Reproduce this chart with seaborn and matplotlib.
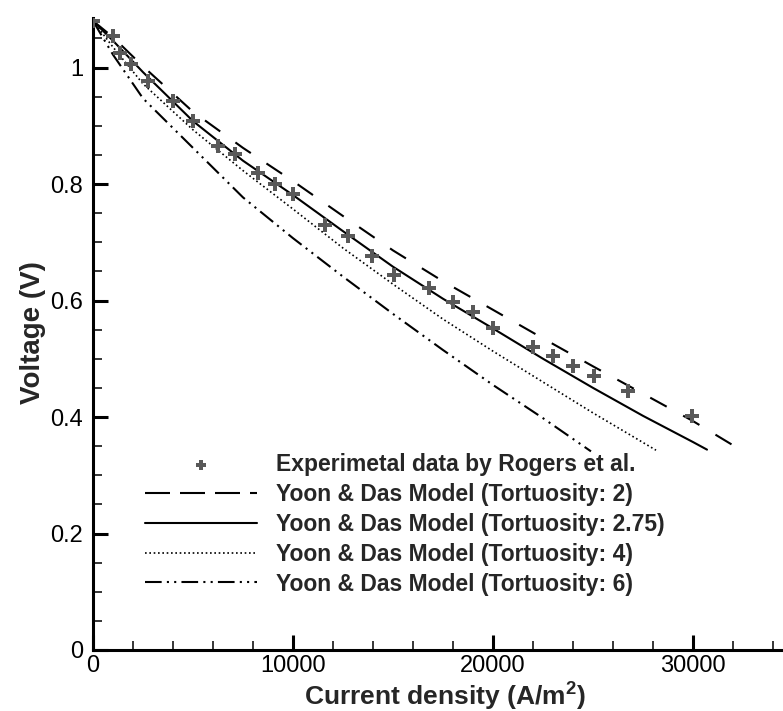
import matplotlib
matplotlib.use("Agg")
import matplotlib.pyplot as plt
import seaborn as sns
from matplotlib.ticker import MultipleLocator
from matplotlib.lines import Line2D

# ---- data ----
exp_x = [0, 1000, 1350, 1900, 2750, 4000, 5000, 6250, 7100, 8250, 9100, 10000,
         11600, 12750, 13950, 15050, 16800, 18000, 19000, 20000, 22000, 23000,
         24000, 25050, 26750, 29950]
exp_y = [1.08, 1.054, 1.025, 1.006, 0.977, 0.943, 0.909, 0.866, 0.852, 0.819,
         0.800, 0.783, 0.729, 0.711, 0.677, 0.643, 0.621, 0.598, 0.581, 0.552,
         0.521, 0.504, 0.487, 0.471, 0.444, 0.401]

t2_x = [0, 1000, 2500, 5000, 7500, 10000, 12500, 15000, 17500, 20000, 22500,
        25000, 27500, 30000, 32600]
t2_y = [1.08, 1.052, 1.002, 0.924, 0.862, 0.805, 0.745, 0.686, 0.633, 0.584,
        0.535, 0.487, 0.440, 0.393, 0.339]

t275_x = [0, 1000, 2500, 5000, 7500, 10000, 12500, 15000, 17500, 20000, 22500,
          25000, 27500, 30000, 30700]
t275_y = [1.08, 1.046, 0.992, 0.908, 0.840, 0.781, 0.719, 0.658, 0.603, 0.552,
          0.500, 0.450, 0.402, 0.357, 0.344]

t4_x = [0, 1000, 2500, 5000, 7500, 10000, 12500, 15000, 17500, 20000, 22500,
        25000, 28150]
t4_y = [1.08, 1.035, 0.972, 0.893, 0.823, 0.757, 0.690, 0.628, 0.568, 0.513,
        0.460, 0.407, 0.343]

t6_x = [0, 1000, 2500, 5000, 7500, 10000, 12500, 15000, 17500, 20000, 22500,
        24900]
t6_y = [1.08, 1.022, 0.947, 0.862, 0.777, 0.707, 0.641, 0.577, 0.515, 0.455,
        0.398, 0.341]

labels = ["Experimetal data by Rogers et al.",
          "Yoon & Das Model (Tortuosity: 2)",
          "Yoon & Das Model (Tortuosity: 2.75)",
          "Yoon & Das Model (Tortuosity: 4)",
          "Yoon & Das Model (Tortuosity: 6)"]

sns.set_style("white")
plt.rcParams['font.family'] = ['Liberation Sans', 'DejaVu Sans']

fig = plt.figure(figsize=(7.83, 7.11), dpi=100)
ax = fig.add_axes([93/783, 61/711, 690/783, 632/711])

lw = 1.5
dash_ls = (0, (9, 9))
dashdot_ls = (0, (8, 2.5, 1, 2.5, 1, 2.5))
dot_ls = (0, (1, 1.6))

sc = sns.scatterplot(x=exp_x, y=exp_y, ax=ax, marker='P', s=110,
                     color='#595959', linewidth=0, zorder=3)
sns.lineplot(x=t2_x, y=t2_y, ax=ax, color='black', linewidth=lw)
sns.lineplot(x=t275_x, y=t275_y, ax=ax, color='black', linewidth=lw)
sns.lineplot(x=t4_x, y=t4_y, ax=ax, color='black', linewidth=1.2)
sns.lineplot(x=t6_x, y=t6_y, ax=ax, color='black', linewidth=lw)

lines = ax.get_lines()
lines[0].set_linestyle(dash_ls)
lines[1].set_linestyle('-')
lines[2].set_linestyle(dot_ls)
lines[3].set_linestyle(dashdot_ls)

ax.set_xlim(0, 34500)
ax.set_ylim(0, 1.085)
ax.xaxis.set_minor_locator(MultipleLocator(2000))
ax.yaxis.set_minor_locator(MultipleLocator(0.05))
ax.set_yticks([0, 0.2, 0.4, 0.6, 0.8, 1.0])
ax.set_yticklabels(['0', '0.2', '0.4', '0.6', '0.8', '1'])
ax.set_xticks([0, 10000, 20000, 30000])
ax.set_xticklabels(['0', '10000', '20000', '30000'])

for s in ['top', 'right']:
    ax.spines[s].set_visible(False)
for s in ['left', 'bottom']:
    ax.spines[s].set_linewidth(2.2)
    ax.spines[s].set_color('black')

ax.tick_params(which='major', direction='in', length=11, width=2.2,
               labelsize=17, colors='black')
ax.tick_params(which='minor', direction='in', length=6.5, width=1.1,
               colors='black')
ax.tick_params(axis='y', which='both', left=True, pad=7)
ax.tick_params(axis='x', which='both', bottom=True, pad=3.5)

ax.set_xlabel("Current density (A/m$^\\mathregular{2}$)", fontsize=19,
              fontweight='bold')
ax.set_ylabel("Voltage (V)", fontsize=20, fontweight='bold')
ax.xaxis.set_label_coords(0.51, -0.086)
ax.xaxis.label.set_va('baseline')
ax.yaxis.set_label_coords(-0.068, 0.503)

# legend handles (the dashed key uses the denser legend dash pattern)
leg_handles = [
    sc.collections[0],
    Line2D([], [], color='black', linewidth=lw, linestyle=(0, (12, 4.8))),
    lines[1],
    lines[2],
    lines[3],
]
leg = ax.legend(leg_handles, labels, loc='upper left',
                bbox_to_anchor=(145/783, 1 - 453/711),
                bbox_transform=fig.transFigure, frameon=False,
                prop={'size': 16.5, 'weight': 'bold'},
                handlelength=4.9, handletextpad=0.83, labelspacing=0.3,
                borderpad=0, borderaxespad=0, markerscale=0.75)

fig.savefig("out.png", dpi=100)
